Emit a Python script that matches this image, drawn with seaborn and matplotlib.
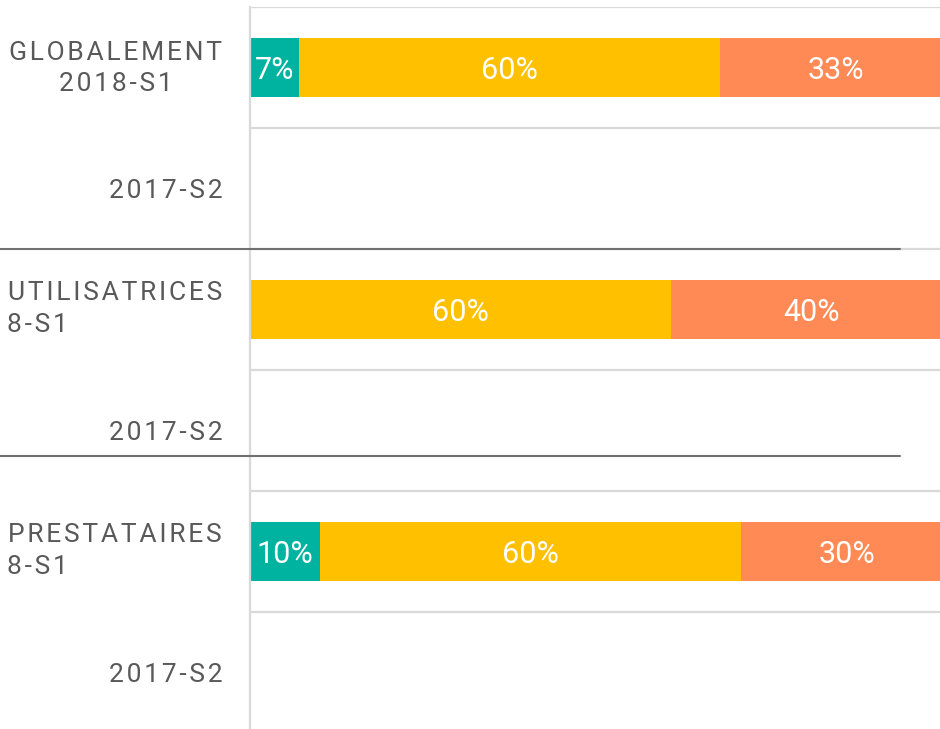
import seaborn as sns
import matplotlib.pyplot as plt
import matplotlib.transforms as mtransforms
import pandas as pd
import numpy as np

# data
groups = ['GLOBALEMENT', 'GLOBALEMENT', 'UTILISATRICES', 'UTILISATRICES', 'PRESTATAIRES', 'PRESTATAIRES']
periods = ['2018-S1', '2017-S2', '2018-S1', '2017-S2', '2018-S1', '2017-S2']
low = [7, 0, 0, 0, 10, 0]
mid = [60, 0, 60, 0, 60, 0]
high = [33, 0, 40, 0, 30, 0]
series_colors = ['#00B2A0', '#FFC000', '#FF8A55']

rows = [g + ' ' + p for g, p in zip(groups, periods)]
df = pd.DataFrame({'row': rows, 'low': low, 'mid': mid, 'high': high})
df['c1'] = df['low']
df['c2'] = df['low'] + df['mid']
df['c3'] = df['low'] + df['mid'] + df['high']

sns.set_style('white')
label_font = ['Roboto', 'DejaVu Sans']
value_font = ['Roboto', 'DejaVu Sans']
label_color = '#595959'


def track(s):
    # wide letter spacing like the original labels
    return '\u200a'.join(s)


fig = plt.figure(figsize=(9.4, 7.29), dpi=100)
ax = fig.add_axes([250 / 940, -4 / 729, 702 / 940, 726 / 729])

# stacked bars: draw cumulative sums, longest first
for col, color in zip(['c3', 'c2', 'c1'], series_colors[::-1]):
    sns.barplot(data=df, x=col, y='row', color=color, width=0.48,
                linewidth=0, saturation=1, ax=ax, zorder=2)

ax.set_xlim(0, 100)
ax.set_ylim(5.5, -0.5)
ax.set_xlabel('')
ax.set_ylabel('')
ax.set_xticks([])

# row grid lines
for y in np.arange(-0.5, 6, 1):
    ax.axhline(y, color='#D9D9D9', lw=1.6, zorder=1)

for s in ['right', 'bottom', 'top']:
    ax.spines[s].set_visible(False)
ax.spines['left'].set_color('#D9D9D9')
ax.spines['left'].set_linewidth(1.6)

# tick labels for the 2017-S2 rows
ax.set_yticks(range(len(rows)))
ax.set_yticklabels(['' if p == '2018-S1' else track(p) for p in periods],
                   fontsize=19, color=label_color, family=label_font)
ax.tick_params(axis='y', length=0, pad=20)

# group labels
ax.annotate(track('GLOBALEMENT') + '\n' + track('2018-S1'), xy=(0, 0),
            xycoords=('axes fraction', 'data'), xytext=(-28, -1),
            textcoords='offset pixels', ha='right', va='center',
            multialignment='center', fontsize=19, color=label_color,
            family=label_font, linespacing=1.4)
for r in [2, 4]:
    ax.annotate(track(groups[r]), xy=(0, r), xycoords=('axes fraction', 'data'),
                xytext=(-28, 16), textcoords='offset pixels', ha='right', va='center',
                fontsize=19, color=label_color, family=label_font)
    # second line of these labels is cut by the left edge in the original
    ax.annotate(track(periods[r][3:]), xy=(0, r), xycoords=('axes fraction', 'data'),
                xytext=(7 - 250, -15), textcoords='offset pixels', ha='left', va='center',
                fontsize=19, color=label_color, family=label_font)

# value labels
for i in range(len(rows)):
    lefts = [0, low[i], low[i] + mid[i]]
    for v, l in zip([low[i], mid[i], high[i]], lefts):
        if v > 0:
            ax.text(l + v / 2, i, f'{v}%', ha='center', va='center_baseline',
                    color='white', fontsize=22, fontweight='normal',
                    family=value_font, zorder=3)

# group separators
trans = mtransforms.blended_transform_factory(fig.transFigure, ax.transData)
for y in [1.5, 3.21]:
    ax.plot([0, 900 / 940], [y, y], color='#707070', lw=1.5, transform=trans,
            clip_on=False, zorder=4)

fig.savefig('out.png', dpi=100)
